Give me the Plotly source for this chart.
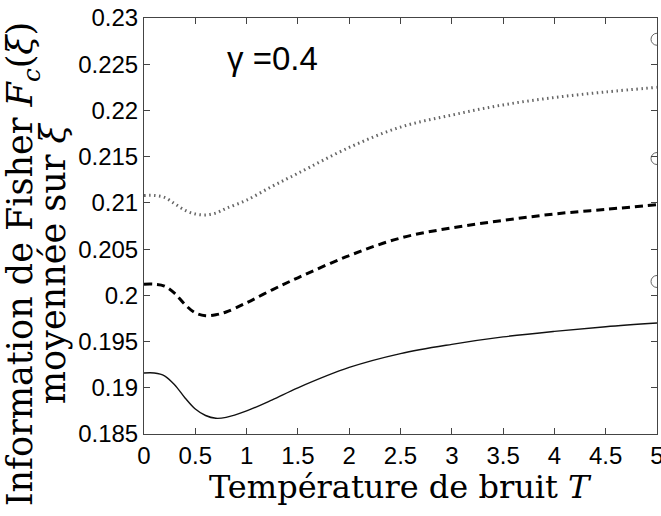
import plotly.graph_objects as go

T = [0, 0.1, 0.2, 0.3, 0.4, 0.5, 0.6, 0.7, 0.8, 1.0, 1.25, 1.5, 2.0, 2.5, 3.0, 3.5, 4.0, 4.5, 5.0]
solid = [0.1916, 0.1916, 0.1913, 0.1903, 0.1889, 0.1877, 0.1870, 0.1867, 0.1868, 0.1875, 0.1887, 0.1900, 0.1922, 0.1937, 0.1947, 0.1955, 0.1961, 0.1966, 0.1970]
dashed = [0.2012, 0.2012, 0.2010, 0.2002, 0.1990, 0.1981, 0.1978, 0.1979, 0.1982, 0.1992, 0.2006, 0.2019, 0.2043, 0.2062, 0.2073, 0.2081, 0.2088, 0.2093, 0.2098]
dotted = [0.2108, 0.2108, 0.2106, 0.2099, 0.2092, 0.2088, 0.2087, 0.2089, 0.2094, 0.2103, 0.2118, 0.2132, 0.2160, 0.2182, 0.2195, 0.2206, 0.2214, 0.2220, 0.2225]
circle_T = [5, 5, 5]
circle_F = [0.2277, 0.2148, 0.2015]

y_ticks = [0.185, 0.19, 0.195, 0.2, 0.205, 0.21, 0.215, 0.22, 0.225, 0.23]
y_ticktext = ["0.185", "0.19", "0.195", "0.2", "0.205", "0.21", "0.215", "0.22", "0.225", "0.23"]
x_ticks = [0, 0.5, 1, 1.5, 2, 2.5, 3, 3.5, 4, 4.5, 5]
x_ticktext = ["0", "0.5", "1", "1.5", "2", "2.5", "3", "3.5", "4", "4.5", "5"]

gamma_label = "γ =0.4"
x_title = "Température de bruit <i>T</i>"
y_title_1 = "Information de Fisher <i>F<sub>c</sub></i>(<i>ξ</i>)"
y_title_2 = "moyennée sur <i>ξ</i>"

TITLE_FONT = "DejaVu Serif"
TICK_FONT = "Liberation Sans, Arial"

fig = go.Figure()
fig.add_trace(go.Scatter(x=T, y=dotted, mode="lines",
                         line=dict(color="#666666", width=3, dash="1.5px,3.5px", shape="spline")))
fig.add_trace(go.Scatter(x=T, y=dashed, mode="lines",
                         line=dict(color="black", width=3, dash="8px,5px", shape="spline")))
fig.add_trace(go.Scatter(x=T, y=solid, mode="lines",
                         line=dict(color="#111111", width=1.4, shape="spline")))
fig.add_trace(go.Scatter(x=circle_T, y=circle_F, mode="markers", cliponaxis=True,
                         marker=dict(symbol="circle-open", size=12, color="#666666", line=dict(width=1))))

fig.add_annotation(x=1.25, y=0.2256, xref="x", yref="y", text=gamma_label, showarrow=False,
                   font=dict(family=TICK_FONT, size=33, color="black"))

fig.add_annotation(x=-0.236, y=0.41, xref="paper", yref="paper", text=y_title_1, showarrow=False,
                   textangle=-90, xanchor="center", yanchor="middle",
                   font=dict(family=TITLE_FONT, size=35, color="black"))
fig.add_annotation(x=-0.176, y=0.41, xref="paper", yref="paper", text=y_title_2, showarrow=False,
                   textangle=-90, xanchor="center", yanchor="middle",
                   font=dict(family=TITLE_FONT, size=35, color="black"))
fig.add_annotation(x=0.5, y=-0.127, xref="paper", yref="paper", text=x_title, showarrow=False,
                   xanchor="center", yanchor="middle",
                   font=dict(family=TITLE_FONT, size=32, color="black"))

axis_common = dict(showline=True, linecolor="#444444", linewidth=1, mirror="ticks", ticks="inside",
                   ticklen=6, tickcolor="#444444", showgrid=False, zeroline=False,
                   ticklabeloverflow="allow",
                   tickfont=dict(family=TICK_FONT, size=24, color="black"))

fig.update_xaxes(range=[0, 5], tickvals=x_ticks, ticktext=x_ticktext, **axis_common)
fig.update_yaxes(range=[0.185, 0.23], tickvals=y_ticks, ticktext=y_ticktext, **axis_common)

fig.update_layout(width=661, height=516, margin=dict(l=144, r=4, t=18, b=82, autoexpand=False),
                  paper_bgcolor="white", plot_bgcolor="white", showlegend=False)

fig.write_html("out.html", config={"displayModeBar": False},
               post_script="document.body.style.margin='0';document.body.style.overflow='hidden';")
